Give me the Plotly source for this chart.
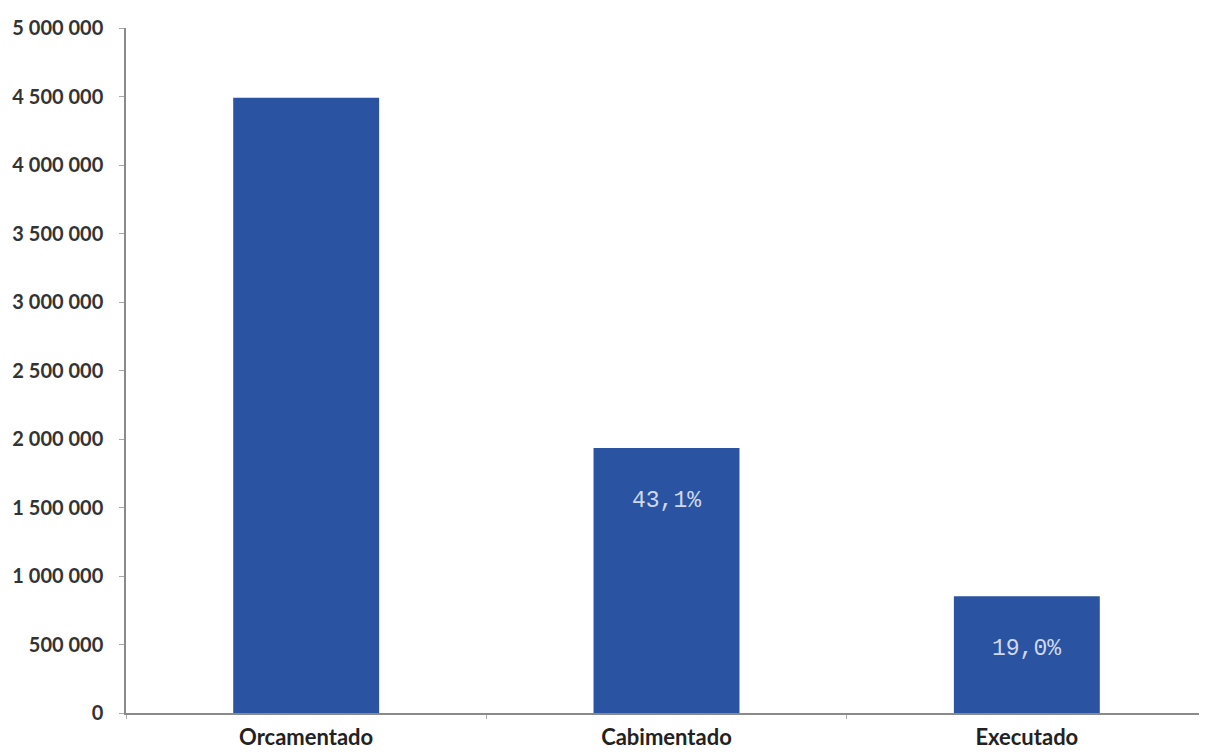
import plotly.graph_objects as go

categories = ["Orcamentado", "Cabimentado", "Executado"]
values = [4490000, 1935000, 853000]
pct_labels = ["", "43,1%", "19,0%"]
y_tickvals = [0, 500000, 1000000, 1500000, 2000000, 2500000, 3000000, 3500000, 4000000, 4500000, 5000000]
y_ticktext = ["0", "500 000", "1 000 000", "1 500 000", "2 000 000", "2 500 000", "3 000 000",
              "3 500 000", "4 000 000", "4 500 000", "5 000 000"]

fig = go.Figure()
fig.add_trace(go.Bar(
    x=categories, y=values, width=0.405,
    marker=dict(color="#2A54A1", line=dict(width=0)),
    hoverinfo="x+y",
))

for c, v, t in zip(categories, values, pct_labels):
    if t:
        fig.add_annotation(x=c, y=v, text=t, showarrow=False, yshift=-53,
                           font=dict(family="Liberation Mono", size=23, color="#D0D8EE"))

fig.update_layout(
    width=1199, height=744,
    margin=dict(l=118, r=0, t=20, b=39),
    paper_bgcolor="white", plot_bgcolor="white",
    showlegend=False,
    bargap=0.595,
    font=dict(family="Lato", color="#333333"),
)
fig.update_xaxes(
    showline=True, linecolor="#8a8a8a", linewidth=1.5,
    ticks="outside", ticklen=4, tickcolor="#aaaaaa", tickson="boundaries",
    tickfont=dict(family="Lato", size=22, color="#222222", weight="bold"),
    ticklabelstandoff=4, automargin=False,
    showgrid=False, zeroline=False,
)
fig.update_yaxes(
    range=[0, 5000000], tickvals=y_tickvals, ticktext=y_ticktext,
    showline=True, linecolor="#8a8a8a", linewidth=1.5,
    ticks="outside", ticklen=5, tickcolor="#aaaaaa",
    tickfont=dict(family="Lato", size=20, color="#333333", weight="bold"),
    ticklabelstandoff=12, automargin=False,
    showgrid=False, zeroline=False,
)

fig.write_html("out.html")
